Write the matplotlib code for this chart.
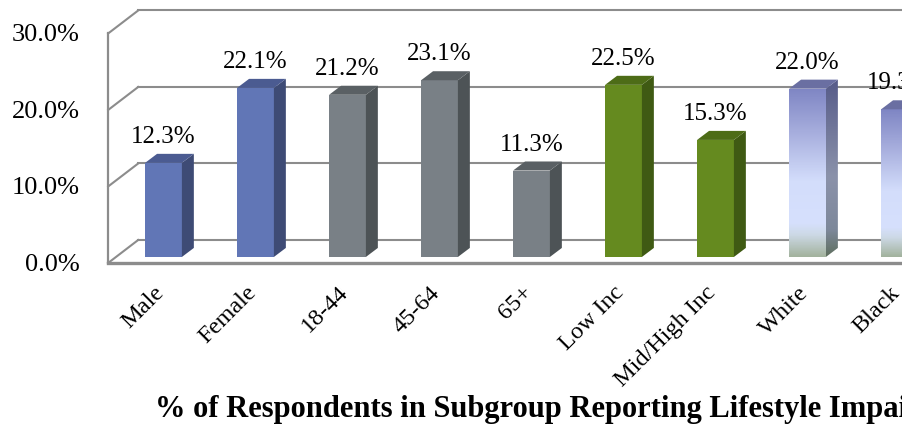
import numpy as np
import matplotlib.pyplot as plt
from matplotlib.patches import Polygon
from matplotlib.colors import LinearSegmentedColormap

# Data
categories = ["Male", "Female", "18-44", "45-64", "65+", "Low Inc",
              "Mid/High Inc", "White", "Black"]
values = [12.3, 22.1, 21.2, 23.1, 11.3, 22.5, 15.3, 22.0, 19.3]
yticks = [0, 10, 20, 30]
title = "% of Respondents in Subgroup Reporting Lifestyle Impairment"

# face, side, top colours per group
solid = {
    "blue": ("#6176b6", "#3e4b75", "#4b5b91"),
    "gray": ("#798086", "#4d5356", "#5a6064"),
    "green": ("#658a1f", "#3f5a13", "#4d6c17"),
}
groups = ["blue", "blue", "gray", "gray", "gray", "green", "green", "grad", "grad"]

face_cmap = LinearSegmentedColormap.from_list(
    "face", [(0, "#a3b39e"), (0.13, "#cdd9e6"), (0.2, "#d6e0fd"),
             (0.45, "#d3ddfb"), (0.75, "#a5acdc"), (1, "#7f86c4")])
side_cmap = LinearSegmentedColormap.from_list(
    "side", [(0, "#5f6f5f"), (0.15, "#7d889a"), (0.45, "#8b92aa"),
             (1, "#565b89")])
grad_top = "#6a6fa2"

# geometry (data units: 1 category step, 1 percent)
bar_w = 0.40
bdx, bdy = 0.13, 1.18           # bar depth offset
fdx, fdy = -0.085, -0.78        # front plane offset from bar plane
kdx, kdy = 0.241, 2.22          # back plane offset from bar plane
left = -0.516                   # left wall position in bar plane
right = 9.5
grid_c = "#8c8c8c"
font = "Liberation Serif"

fig = plt.figure(figsize=(9.03, 4.32), dpi=100)
ax = fig.add_axes([0, 0, 1, 1])
ax.axis("off")

# back wall gridlines + top edge
for t in yticks:
    ax.plot([left + kdx, right], [t + kdy, t + kdy], color=grid_c, lw=1.5, zorder=1)
    ax.plot([left + fdx, left + kdx], [t + fdy, t + kdy], color=grid_c, lw=1.5, zorder=1)
# front left edge and floor front edge
ax.plot([left + fdx, left + fdx], [fdy, yticks[-1] + fdy], color=grid_c, lw=1.6, zorder=1)
ax.plot([left + fdx, right], [fdy, fdy], color=grid_c, lw=2.4, zorder=1)

# bars
x = np.arange(len(categories))
for xi, v, g in zip(x, values, groups):
    x0, x1 = xi - bar_w / 2, xi + bar_w / 2
    side = [(x1, 0), (x1 + bdx, bdy), (x1 + bdx, v + bdy), (x1, v)]
    top = [(x0, v), (x1, v), (x1 + bdx, v + bdy), (x0 + bdx, v + bdy)]
    if g == "grad":
        rect = ax.bar(xi, v, width=bar_w, color="none", lw=0, zorder=4)[0]
        im = ax.imshow(np.linspace(0, 1, 200).reshape(-1, 1), cmap=face_cmap,
                       origin="lower", extent=[x0, x1, 0, v], aspect="auto", zorder=4)
        im.set_clip_path(rect)
        sp = Polygon(side, closed=True, facecolor="none", lw=0, zorder=4)
        ax.add_patch(sp)
        im2 = ax.imshow(np.linspace(0, 1, 200).reshape(-1, 1), cmap=side_cmap,
                        origin="lower", extent=[x1, x1 + bdx, 0, v + bdy],
                        aspect="auto", zorder=4)
        im2.set_clip_path(sp)
        ax.add_patch(Polygon(top, closed=True, facecolor=grad_top, lw=0, zorder=4))
    else:
        fc, sc, tc = solid[g]
        ax.bar(xi, v, width=bar_w, color=fc, lw=0, zorder=4)
        ax.add_patch(Polygon(side, closed=True, facecolor=sc, lw=0, zorder=4))
        ax.add_patch(Polygon(top, closed=True, facecolor=tc, lw=0, zorder=4))
    ax.text(xi, v + 3.4, f"{v:.1f}%", ha="center", va="center",
            fontsize=18, family=font, zorder=5)

# y tick labels
for t in yticks:
    ax.text(-0.908, t - 1.05, f"{t:.1f}%", ha="right", va="center",
            fontsize=19, family=font)

# category labels
for xi, c in zip(x, categories):
    ax.text(xi - 0.11, -3.3, c, rotation=45, rotation_mode="anchor",
            ha="right", va="top", fontsize=17.5, family=font)

ax.text(-0.092, -20.0, title, ha="left", va="center", fontsize=22,
        fontweight="bold", family=font)

ax.set_xlim(-1.777, 8.038)
ax.set_ylim(-22.88, 33.59)

fig.savefig("out.png", dpi=100)
